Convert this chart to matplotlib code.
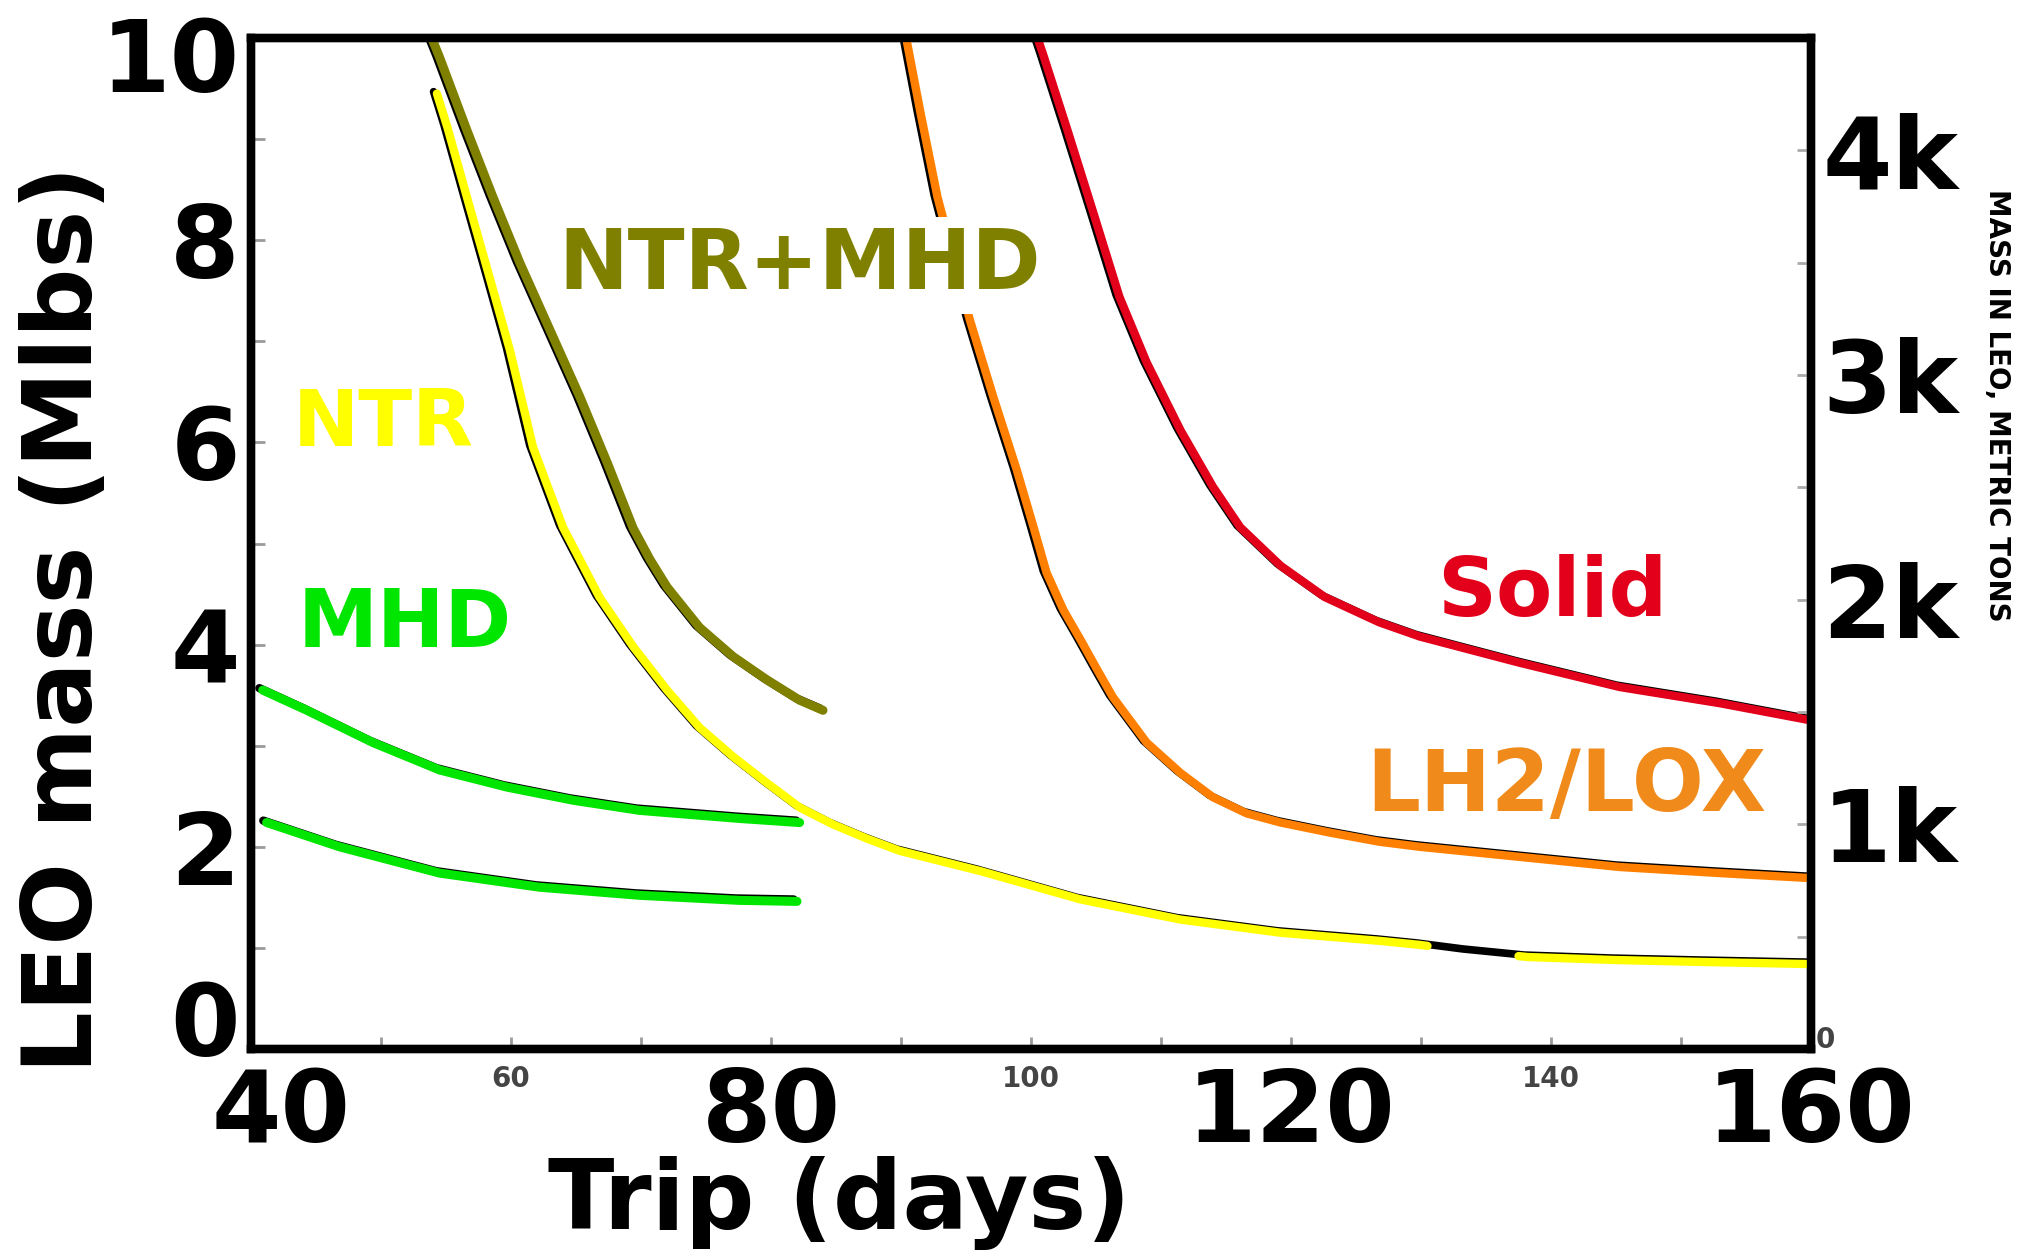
import matplotlib
matplotlib.use("Agg")
import numpy as np
import matplotlib.pyplot as plt
from matplotlib import transforms

plt.rcParams['font.family'] = ['DejaVu Sans']
plt.rcParams['font.weight'] = 'bold'

# trip time (days) vs mass in LEO (Mlbs)
ntr_mhd_days = [53.9, 54.5, 56.6, 58.6, 60.7, 63.0, 65.3, 67.4, 69.4, 70.7, 72.0, 74.5, 77.1, 79.7, 82.2, 84.0]
ntr_mhd_mass = [10.0, 9.81, 9.09, 8.43, 7.77, 7.11, 6.45, 5.80, 5.15, 4.84, 4.57, 4.17, 3.88, 3.65, 3.45, 3.35]

ntr_days = [54.3, 55.1, 56.6, 58.4, 59.9, 61.7, 64.0, 66.8, 69.4, 72.0, 74.5, 77.1, 79.7, 82.2,
            84.8, 87.4, 89.9, 96.1, 103.8, 111.5, 119.2, 126.8, 129.9, 133.5, 138.2, 145.0, 152.0, 160.0]
ntr_mass = [9.45, 9.12, 8.43, 7.61, 6.92, 5.95, 5.16, 4.47, 3.98, 3.55, 3.18, 2.89, 2.63, 2.39,
            2.22, 2.08, 1.96, 1.76, 1.48, 1.28, 1.15, 1.07, 1.03, 0.97, 0.91, 0.88, 0.86, 0.84]
ntr_gap = (130.5, 137.5)   # yellow overlay missing here, only the scanned line

mhd_hi_days = [40.9, 44.3, 49.4, 54.5, 59.7, 64.8, 69.9, 77.6, 82.2]
mhd_hi_mass = [3.55, 3.35, 3.03, 2.76, 2.59, 2.46, 2.36, 2.28, 2.24]
mhd_lo_days = [41.2, 46.8, 54.5, 62.2, 69.9, 77.6, 82.0]
mhd_lo_mass = [2.24, 2.00, 1.74, 1.60, 1.52, 1.47, 1.46]

lox_days = [90.4, 91.5, 92.8, 95.3, 97.1, 98.9, 100.2, 101.2, 102.5, 103.8, 105.1, 106.3, 108.9, 111.5,
            114.0, 116.6, 119.2, 123.0, 126.8, 129.9, 137.6, 145.3, 153.0, 160.0]
lox_mass = [10.0, 9.26, 8.43, 7.21, 6.45, 5.73, 5.16, 4.71, 4.34, 4.05, 3.75, 3.48, 3.03, 2.73,
            2.49, 2.33, 2.24, 2.14, 2.05, 2.00, 1.90, 1.80, 1.74, 1.69]

solid_days = [100.5, 100.9, 102.8, 104.8, 106.8, 108.9, 111.5, 114.0, 116.1, 119.2, 122.6,
              126.8, 129.9, 137.6, 145.3, 153.0, 160.0]
solid_mass = [10.0, 9.85, 9.09, 8.27, 7.44, 6.79, 6.12, 5.56, 5.16, 4.78, 4.47,
              4.22, 4.08, 3.82, 3.58, 3.42, 3.25]

x_ticks = [40, 80, 120, 160]
x_scan_ticks = [60, 100, 140]
y_ticks = [0, 2, 4, 6, 8, 10]
right_ticks = [0, 1, 2, 3, 4]
right_labels = ['0', '1k', '2k', '3k', '4k']
MT_PER_MLB = 450.0   # right axis scale as it sits in the picture

fig = plt.figure(figsize=(20.22, 12.5), dpi=100)
ax = fig.add_axes([251 / 2022, 1 - 1049 / 1250, 1560 / 2022, 1011 / 1250])

# scanned black line slightly offset under each coloured trace
shadow = transforms.offset_copy(ax.transData, fig=fig, x=-2.4, y=1.4, units='points')

def trace(days, mass, color, lw=6, gap=None):
    d = np.array(days, dtype=float)
    m = np.array(mass, dtype=float)
    ax.plot(d, m, color='black', lw=lw - 0.5, transform=shadow, zorder=2,
            solid_capstyle='round', solid_joinstyle='round')
    if gap is not None:
        m = np.where((d > gap[0]) & (d < gap[1]), np.nan, m)
        # put the gap edges on the curve
        dd = np.concatenate([d, gap])
        mm = np.concatenate([m, np.interp(gap, days, mass)])
        order = np.argsort(dd, kind='stable')
        d, m = dd[order], mm[order]
    ax.plot(d, m, color=color, lw=lw, zorder=3, solid_capstyle='round',
            solid_joinstyle='round')

trace(ntr_mhd_days, ntr_mhd_mass, '#808000', lw=6.5)
trace(ntr_days, ntr_mass, '#ffff00', lw=6, gap=ntr_gap)
trace(mhd_hi_days, mhd_hi_mass, '#00e600', lw=6.5)
trace(mhd_lo_days, mhd_lo_mass, '#00e600', lw=6.5)
trace(lox_days, lox_mass, '#ff8000', lw=6)
trace(solid_days, solid_mass, '#e2001a', lw=6)

box = dict(facecolor='white', edgecolor='none', pad=6)
ax.text(82.2, 7.75, 'NTR+MHD', color='#808000', fontsize=60, ha='center', va='center', bbox=box, zorder=4)
ax.text(50.2, 6.18, 'NTR', color='#ffff00', fontsize=57, ha='center', va='center', zorder=4)
ax.text(51.8, 4.19, 'MHD', color='#00e600', fontsize=58, ha='center', va='center', zorder=4)
ax.text(140.1, 4.51, 'Solid', color='#e2001a', fontsize=59, ha='center', va='center', zorder=4)
ax.text(141.2, 2.59, 'LH2/LOX', color='#f08a1a', fontsize=61, ha='center', va='center', zorder=4)

ax.set_xlim(40, 160)
ax.set_ylim(0, 10)
ax.set_xticks(x_ticks)
ax.set_xticklabels([str(v) for v in x_ticks])
ax.set_xticks(np.arange(50, 160, 10), minor=True)
ax.set_yticks(y_ticks)
ax.set_yticklabels([str(v) for v in y_ticks])
ax.set_yticks(np.arange(1, 10, 2), minor=True)
ax.tick_params(axis='x', which='both', direction='in', length=9, width=2,
               color='#9a9a9a', labelsize=72, pad=12)
ax.tick_params(axis='y', which='both', direction='in', length=10, width=2,
               color='#9a9a9a', labelsize=72, pad=8)
for s in ax.spines.values():
    s.set_linewidth(6)

# small leftover labels from the scanned axis
lab_tr = transforms.blended_transform_factory(ax.transData, ax.transAxes)
for v in x_scan_ticks:
    ax.text(v, -0.03, str(v), transform=lab_tr, ha='center', va='center',
            fontsize=20, color='#444444')

ax2 = ax.twinx()
ax2.set_ylim(0, 10 * MT_PER_MLB / 1000)
ax2.set_yticks(right_ticks)
ax2.set_yticklabels(right_labels)
ax2.set_yticks(np.arange(0.5, 4.5, 1.0), minor=True)
ax2.tick_params(axis='y', which='both', direction='in', length=10, width=2,
                color='#aaaaaa', labelsize=72, pad=8)
for s in ax2.spines.values():
    s.set_linewidth(6)
ax2.get_yticklabels()[0].set_fontsize(20)
ax2.get_yticklabels()[0].set_color('#444444')

# nudge a few tick labels the way they sit in the picture
def nudge(label, dx_px, dy_px):
    off = transforms.ScaledTranslation(dx_px / 100, dy_px / 100, fig.dpi_scale_trans)
    label.set_transform(label.get_transform() + off)

ylabels = ax.get_yticklabels()
nudge(ylabels[0], 0, 31)
nudge(ylabels[-1], 0, -16)
nudge(ax.get_xticklabels()[0], 30, 0)
nudge(ax2.get_yticklabels()[0], -6, 12)

fig.text(66 / 2022, 1 - 619 / 1250, 'LEO mass (Mlbs)', rotation=90, fontsize=70,
         ha='center', va='center')
fig.text(839 / 2022, 1 - 1203 / 1250, 'Trip (days)', fontsize=70, ha='center', va='center')
fig.text(1997 / 2022, 1 - 405 / 1250, 'MASS IN LEO, METRIC TONS', rotation=270,
         fontsize=20, ha='center', va='center')

fig.savefig('out.png', dpi=100, facecolor='white')
